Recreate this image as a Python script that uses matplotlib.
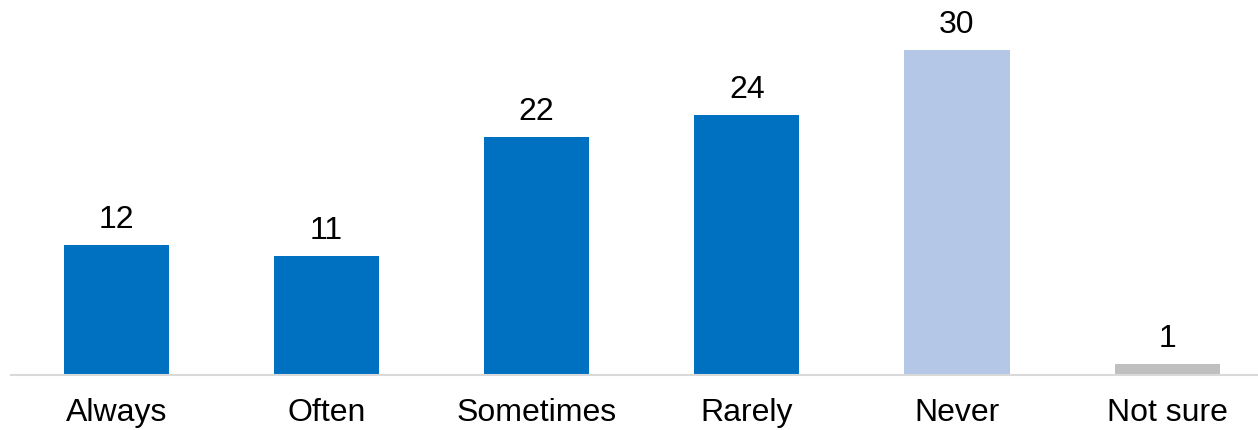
import matplotlib
matplotlib.use("Agg")
import matplotlib.pyplot as plt

categories = ["Always", "Often", "Sometimes", "Rarely", "Never", "Not sure"]
values = [12, 11, 22, 24, 30, 1]
colors = ["#0070C0", "#0070C0", "#0070C0", "#0070C0", "#B4C7E7", "#BFBFBF"]

plt.rcParams["font.family"] = ["Liberation Sans", "DejaVu Sans"]

W, H = 1258, 431
fig = plt.figure(figsize=(W / 100, H / 100), dpi=100)
ax = fig.add_axes([11 / W, 55 / H, (W - 11) / W, 376 / H])

x = list(range(len(categories)))
bars = ax.bar(x, values, width=0.5, color=colors, zorder=2)

spacing = (957 - 116.5) / 4
ax.set_xlim(-105.5 / spacing, 5 + (1258 - (116.5 + 5 * spacing)) / spacing)
ax.set_ylim(0, 376 / 10.833)

for b, v in zip(bars, values):
    ax.annotate(str(v), (b.get_x() + b.get_width() / 2, b.get_height()),
                xytext=(0, 8.0), textcoords="offset points",
                ha="center", va="bottom", fontsize=23, color="black")

ax.set_xticks(x)
ax.set_xticklabels(categories, fontsize=23)
ax.tick_params(axis="x", length=0, pad=15.5)
ax.set_yticks([])
for s in ["left", "right", "top"]:
    ax.spines[s].set_visible(False)
ax.spines["bottom"].set_color("#D9D9D9")
ax.spines["bottom"].set_linewidth(1.5)
ax.patch.set_alpha(0)

fig.savefig("out.png", dpi=100)
